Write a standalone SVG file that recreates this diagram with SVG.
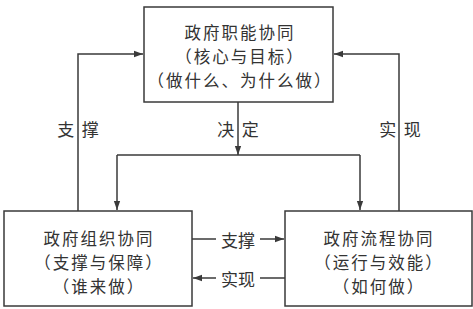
<svg xmlns="http://www.w3.org/2000/svg" width="473" height="309" viewBox="0 0 473 309">
<style>
.box{fill:#fff;stroke:#3a3a3a;stroke-width:1.5}
.ln{fill:none;stroke:#3a3a3a;stroke-width:1.5}
text{font-family:"Noto Sans CJK SC","Noto Sans CJK JP",sans-serif;fill:#333;text-anchor:middle;dominant-baseline:central}
.t{font-size:16.5px;letter-spacing:2px}
.l{font-size:17px}
</style>
<defs>
<marker id="ah" viewBox="0 0 10 10" refX="10" refY="5" markerWidth="9" markerHeight="9" markerUnits="userSpaceOnUse" orient="auto">
<path d="M0,1.5 L10,5 L0,8.5 Z" fill="#3a3a3a"/>
</marker>
</defs>
<g id="connectors">
<polyline class="ln" points="78,211 78,54 143,54" marker-end="url(#ah)"/>
<polyline class="ln" points="399,211 399,54 334,54" marker-end="url(#ah)"/>
<line class="ln" x1="238" y1="102" x2="238" y2="155" marker-end="url(#ah)"/>
<polyline class="ln" points="117,155 360,155"/>
<line class="ln" x1="117" y1="155" x2="117" y2="210" marker-end="url(#ah)"/>
<line class="ln" x1="360" y1="155" x2="360" y2="210" marker-end="url(#ah)"/>
<line class="ln" x1="192" y1="239" x2="216" y2="239"/>
<line class="ln" x1="260" y1="239" x2="284" y2="239" marker-end="url(#ah)"/>
<line class="ln" x1="285" y1="278" x2="260" y2="278"/>
<line class="ln" x1="216" y1="278" x2="193" y2="278" marker-end="url(#ah)"/>
<text class="l" x="78" y="128" xml:space="preserve">支  撑</text>
<text class="l" x="238" y="128" xml:space="preserve">决  定</text>
<text class="l" x="400" y="128" xml:space="preserve">实  现</text>
<text class="l" x="238" y="239">支撑</text>
<text class="l" x="238" y="278">实现</text>
</g>
<g id="top">
<rect class="box" x="144" y="7" width="189" height="95"/>
<text class="t" x="240" y="32">政府职能协同</text>
<text class="t" x="240" y="56">（核心与目标）</text>
<text class="t" x="240" y="80">（做什么、为什么做）</text>
</g>
<g id="left">
<rect class="box" x="4" y="211" width="188" height="95"/>
<text class="t" x="99" y="238">政府组织协同</text>
<text class="t" x="99" y="262">（支撑与保障）</text>
<text class="t" x="99" y="286">（谁来做）</text>
</g>
<g id="right">
<rect class="box" x="285" y="211" width="187" height="95"/>
<text class="t" x="379" y="238">政府流程协同</text>
<text class="t" x="379" y="262">（运行与效能）</text>
<text class="t" x="379" y="286">（如何做）</text>
</g>
</svg>
